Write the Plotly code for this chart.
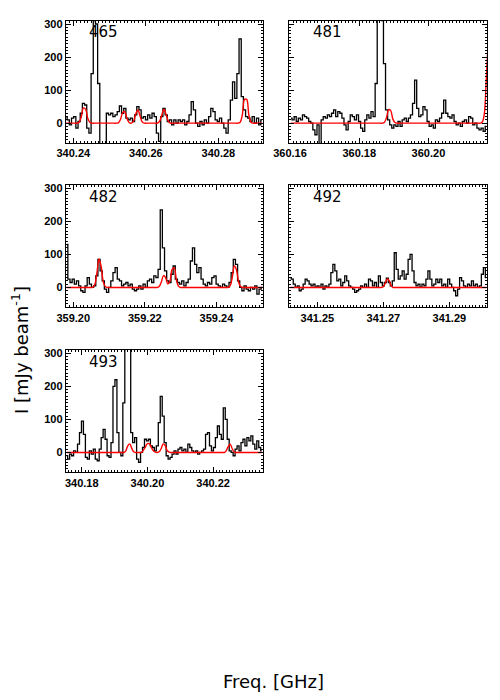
import numpy as np
import plotly.graph_objects as go

# ---- panel labels, x ranges, channel grids ----
labels = ["465", "481", "482", "492", "493"]
x_ranges = [[340.2379, 340.2923], [360.1598, 360.2170], [359.1979, 359.2530],
            [341.2415, 341.3015], [340.1751, 340.2352]]
tick_starts = [340.24, 360.16, 359.20, 341.25, 340.18]
f0s = [340.2380, 360.1603, 359.1982, 341.2418, 340.1754]
dnu = 0.0006

# ---- observed spectra [mJy/beam] ----
spec_465 = [20, 10, -5, 15, 20, -15, 5, 30, 60, 55, -15, -30, 150, 310, 300, 120, -80, -90, -70, 30,
            25, 30, 20, 25, 35, 52, 30, 45, 15, 10, 15, 5, 25, 50, 40, 15, 20, 10, 25, 15,
            30, 20, -30, -55, 20, 45, 25, 5, 10, -5, 10, 0, 10, 5, 10, -5, 5, 25, 65, 40,
            0, -10, 5, -5, 10, 0, 20, 45, 35, 10, 5, 15, 0, -15, -30, 10, 70, 125, 75, 150,
            255, 80, 40, 20, 15, 5, 20, 0, 15, -5, 10]
spec_481 = [15, 10, 20, 5, 15, 10, 25, 20, 15, 5, 0, -20, -35, -5, -80, 10, 20, 15, 25, 20,
            30, 40, 20, 35, 30, 15, -5, -20, 5, 25, 20, 10, 25, 5, -15, -25, 10, 25, 15, 35,
            20, 120, 330, 340, 310, 180, 40, 10, -5, -15, -5, -10, 5, -10, 10, 15, 5, 15, 25, 60,
            130, 45, 20, 25, 50, 40, 5, -10, -5, -15, 10, 5, 15, 30, 70, 30, 20, 15, 25, 5,
            -5, 0, -10, 5, 10, 0, 20, 15, -5, 0, -15, -20, -15, -25, -10]
spec_482 = [130, 25, 15, 25, 10, 20, 5, -10, -15, 5, 30, 10, 0, 5, 35, 85, 50, 20, -5, -15,
            0, 20, 45, 60, 25, 20, 5, 10, 15, 5, 10, -5, -10, -5, 5, -5, 10, 0, 20, 25,
            15, 35, 30, 55, 235, 120, 50, 20, 15, 40, 65, 25, 15, 10, 20, 5, 15, 25, 80, 120,
            70, 45, 60, 25, 10, 5, 15, 10, 30, 35, 10, 5, 0, 10, 5, 0, 15, 45, 85, 70,
            20, 0, -10, 5, -5, -10, 0, -5, 5, -20, -5, 0]
spec_492 = [30, 25, 10, 0, 5, -10, -5, 10, 25, 20, 10, 5, 10, 0, 5, 0, 10, -5, 5, 0,
            10, 45, 70, 50, 20, 25, 5, 15, 35, 20, 5, 0, -5, -15, -10, -5, 5, 0, 10, 0,
            25, 20, 5, 15, 0, 35, 15, 5, 15, 28, 15, 5, 20, 105, 55, 25, 35, 50, 25, 40,
            85, 100, 50, 15, 5, 10, 0, 10, 5, 25, 50, 25, 5, 10, 25, 15, 25, 5, 10, 0,
            25, 10, 0, -10, -25, -5, 30, 20, 5, 0, 10, 5, 20, 5, 10, 0, 5, 40, 60, 30]
spec_493 = [-10, -20, -5, -10, 5, 0, 25, 60, 95, 55, -15, -20, 5, -5, 10, -20, -25, 10, 45, 70,
            40, -10, -15, 30, 200, 220, 60, 0, -10, 150, 330, 340, 320, 60, 30, 45, -20, -30, 0, 15,
            40, 35, 40, 20, 15, 5, 20, 90, 170, 110, 30, -10, -20, -15, -5, 5, -5, 10, 15, 5,
            10, 0, 25, 15, 5, 0, 5, -5, 0, 5, 10, 55, 60, 20, 5, 15, 45, 80, 55, 40,
            135, 100, 40, 5, 0, -10, 10, 20, 5, 30, 40, 20, 45, 35, 50, 25, 10, 35, 15, 5]

# ---- model spectra on the same channels ----
model_465 = [0, 0, 0, 0, 0, 0, 3, 19, 46, 42, 14, 2, 0, 0, 0, 0, 0, 0, 0, 0,
             0, 0, 0, 0, 1, 11, 32, 35, 14, 2, 0, 6, 27, 40, 22, 4, 0, 0, 0, 0,
             0, 0, 0, 6, 25, 42, 25, 6, 0, 0, 0, 0, 0, 0, 0, 0, 0, 0, 0, 0,
             0, 0, 0, 0, 0, 0, 0, 0, 0, 0, 0, 0, 0, 0, 0, 0, 0, 0, 0, 0,
             3, 25, 72, 72, 25, 3, 0, 0, 0, 0, 0]
model_481 = [0, 0, 0, 0, 0, 0, 0, 0, 0, 0, 0, 0, 0, 0, 0, 0, 0, 0, 0, 0,
             0, 0, 0, 0, 0, 0, 0, 0, 0, 0, 0, 0, 0, 0, 0, 0, 0, 0, 0, 0,
             0, 0, 0, 0, 0, 3, 17, 41, 38, 13, 2, 0, 0, 0, 0, 0, 0, 0, 0, 0,
             0, 0, 0, 0, 0, 0, 0, 0, 0, 0, 0, 0, 0, 0, 0, 0, 0, 0, 0, 0,
             0, 0, 0, 0, 0, 0, 0, 0, 0, 0, 0, 0, 3, 25, 130, 260, 420]
model_482 = [0, 0, 0, 0, 0, 0, 0, 0, 0, 0, 0, 0, 0, 8, 43, 86, 64, 17, 2, 0,
             0, 0, 0, 0, 0, 0, 0, 0, 0, 0, 0, 0, 0, 0, 0, 0, 0, 0, 0, 0,
             0, 0, 0, 3, 16, 36, 30, 11, 19, 54, 60, 24, 4, 0, 0, 0, 0, 0, 0, 0,
             0, 0, 0, 0, 0, 0, 0, 0, 0, 0, 0, 0, 0, 0, 0, 0, 5, 29, 65, 53,
             16, 2, 0, 0, 0, 0, 0, 0, 0, 0, 0, 0]
model_492 = [0, 0, 0, 0, 0, 0, 0, 0, 0, 0, 0, 0, 0, 0, 0, 0, 0, 0, 0, 0,
             0, 0, 0, 0, 0, 0, 0, 0, 0, 0, 0, 0, 0, 0, 0, 0, 0, 0, 0, 0,
             0, 0, 0, 0, 0, 0, 0, 2, 13, 26, 20, 5, 0, 0, 0, 0, 0, 0, 0, 0,
             0, 0, 0, 0, 0, 0, 0, 0, 0, 0, 0, 0, 0, 0, 0, 0, 0, 0, 0, 0,
             0, 0, 0, 0, 0, 0, 0, 0, 0, 0, 0, 0, 0, 0, 0, 0, 0, 0, 0, 0]
model_493 = [0, 0, 0, 0, 0, 0, 0, 0, 0, 0, 0, 0, 0, 0, 0, 0, 0, 0, 0, 0,
             0, 0, 0, 0, 0, 0, 0, 0, 0, 0, 5, 20, 26, 13, 2, 0, 0, 0, 0, 7,
             17, 27, 26, 15, 5, 1, 0, 2, 12, 26, 21, 6, 1, 0, 0, 0, 0, 0, 0, 0,
             0, 0, 0, 0, 0, 0, 0, 0, 0, 0, 0, 0, 0, 0, 0, 0, 0, 0, 0, 0,
             0, 5, 18, 25, 12, 2, 0, 0, 0, 0, 0, 0, 0, 0, 0, 0, 0, 0, 0, 0]

spectra = [spec_465, spec_481, spec_482, spec_492, spec_493]
models = [model_465, model_481, model_482, model_492, model_493]

# panel boxes in pixels (left, right, top, bottom) on a 500x700 page
W, H = 500, 700
cols = [(65.7, 263.0), (289.3, 487.3)]
rows = [(20.7, 143.0), (185.0, 307.3), (350.0, 472.3)]
slots = [(0, 0), (0, 1), (1, 0), (1, 1), (2, 0)]

fig = go.Figure()
tickfont = dict(family="Liberation Sans", size=11, color="black", weight="bold")

for k in range(5):
    r, c = slots[k]
    ax = "" if k == 0 else str(k + 1)
    f = f0s[k] + dnu * np.arange(len(spectra[k]))
    fm = f0s[k] + dnu * np.arange(len(models[k]))
    fig.add_trace(go.Scatter(x=f, y=spectra[k], mode="lines", line=dict(color="black", width=1.3, shape="hvh"),
                             xaxis="x" + ax, yaxis="y" + ax, showlegend=False, hoverinfo="skip"))
    fig.add_trace(go.Scatter(x=fm, y=models[k], mode="lines", line=dict(color="#ff0000", width=1.4, shape="spline"),
                             xaxis="x" + ax, yaxis="y" + ax, showlegend=False, hoverinfo="skip"))

    l, rr = cols[c]
    t, b = rows[r]
    common = dict(showline=True, linecolor="black", linewidth=1, mirror="ticks", ticks="inside",
                  ticklen=5, tickcolor="black", showgrid=False, zeroline=False, tickfont=tickfont,
                  automargin=False)
    fig.layout["xaxis" + ax] = dict(common, domain=[l / W, rr / W], anchor="y" + ax, range=x_ranges[k],
                                    tick0=tick_starts[k], dtick=0.02, tickformat=".2f",
                                    minor=dict(ticks="inside", dtick=0.001, ticklen=2, tickcolor="black"))
    fig.layout["yaxis" + ax] = dict(common, domain=[1 - b / H, 1 - t / H], anchor="x" + ax, range=[-60, 310],
                                    tick0=0, dtick=100, showticklabels=(c == 0),
                                    minor=dict(ticks="inside", dtick=10, ticklen=2, tickcolor="black"))
    fig.add_annotation(text=labels[k], xref="x" + ax + " domain", yref="y" + ax + " domain",
                       x=0.11, y=0.905, xanchor="left", yanchor="middle", showarrow=False,
                       font=dict(family="DejaVu Sans", size=15, color="black"))

fig.add_annotation(text="I [mJy beam<sup>-1</sup>]", xref="paper", yref="paper", x=20 / W, y=1 - 350 / H,
                   textangle=-90, showarrow=False, xanchor="center", yanchor="middle",
                   font=dict(family="DejaVu Sans", size=18, color="black"))
fig.add_annotation(text="Freq. [GHz]", xref="paper", yref="paper", x=273 / W, y=1 - 681 / H,
                   showarrow=False, xanchor="center", yanchor="middle",
                   font=dict(family="DejaVu Sans", size=18, color="black"))

fig.update_layout(width=W, height=H, margin=dict(l=0, r=0, t=0, b=0),
                  paper_bgcolor="white", plot_bgcolor="white")

fig.write_html("out.html", config={"displayModeBar": False},
               post_script="document.body.style.margin='0';")
